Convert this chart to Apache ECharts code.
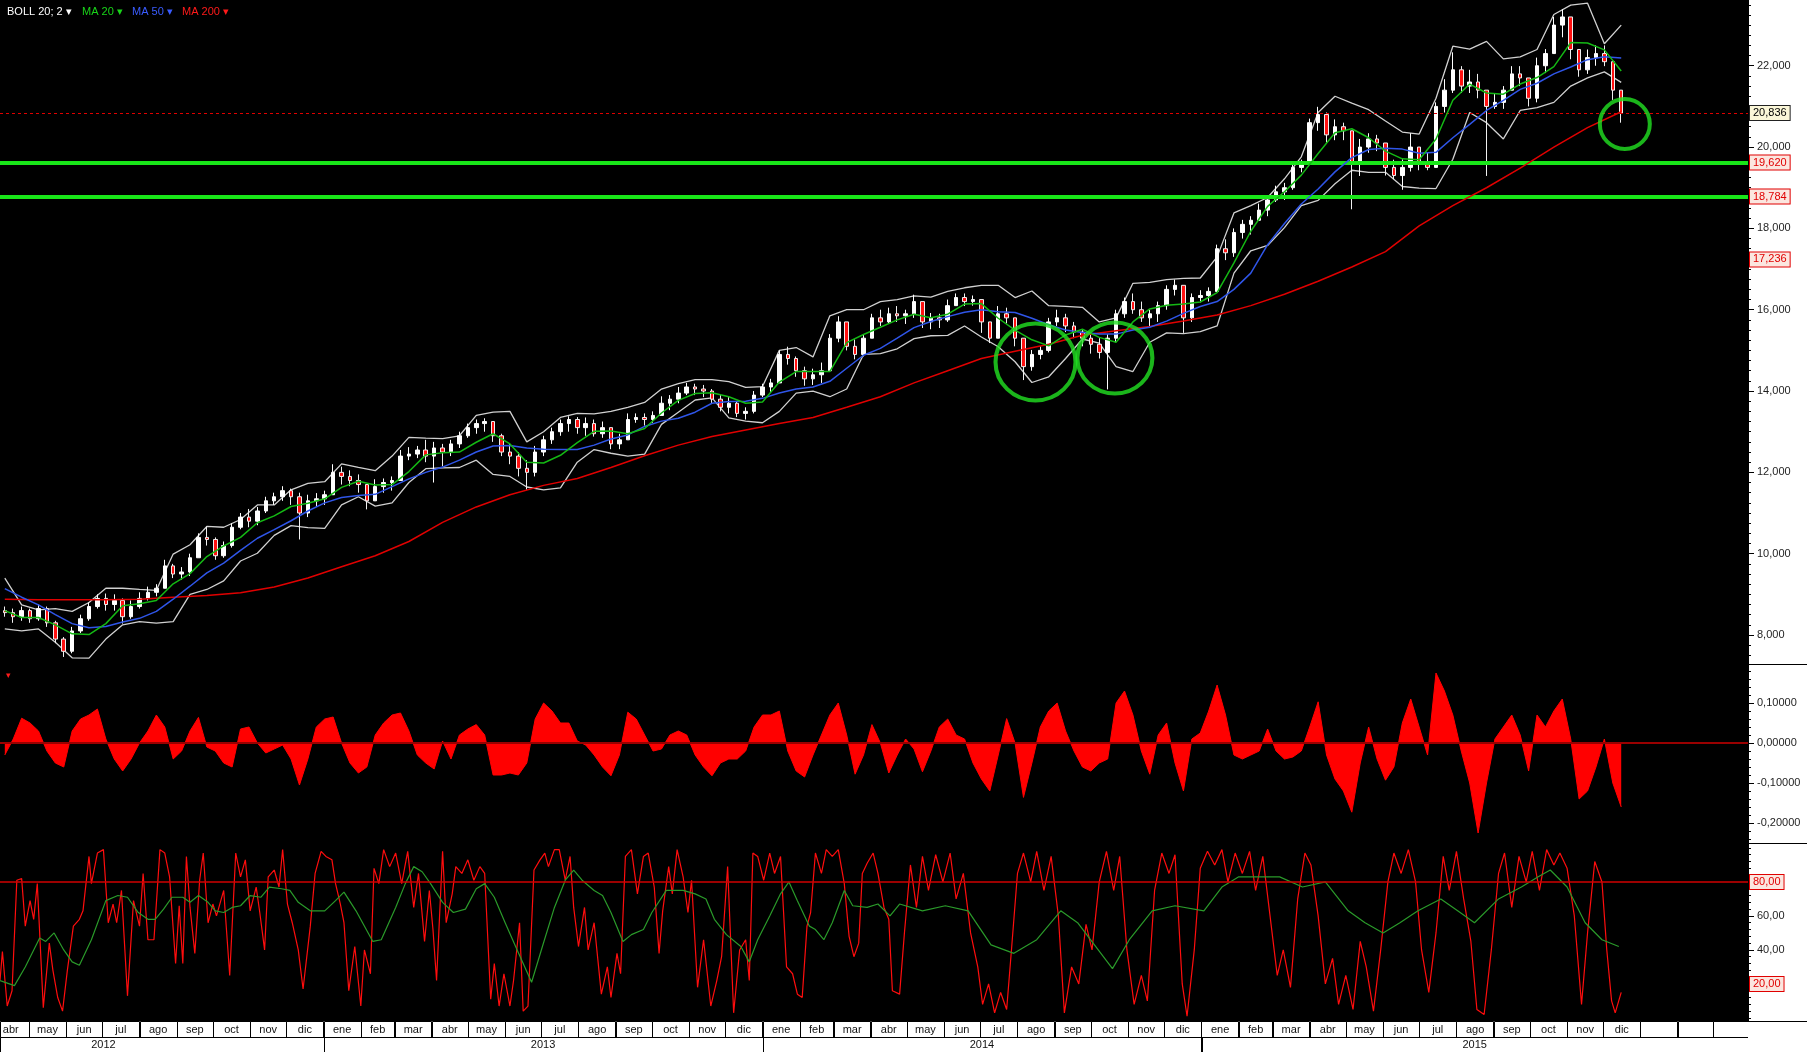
<!DOCTYPE html>
<html><head><meta charset="utf-8">
<script src="https://cdn.jsdelivr.net/npm/echarts@6/dist/echarts.min.js"></script>
<style>html,body{margin:0;padding:0;background:#fff}#c{width:1807px;height:1052px}</style>
</head><body><div id="c"></div>
<script>
const DAY = 86400000;
const AXIS_START = Date.UTC(2012, 3, 7);
const AXIS_END = Date.UTC(2016, 2, 30, 10);
const FIRST_WEEK_MID = Date.UTC(2012, 3, 11);
const LAST_LABELED_MONTH = Date.UTC(2015, 11, 1);
const FIRST_OPEN = 8600;

const MONTH_NAMES = ['ene','feb','mar','abr','may','jun','jul','ago','sep','oct','nov','dic'];
const YEAR_LABELS = ['2012','2013','2014','2015'];
const MAIN_TICKS = [8000,10000,12000,14000,16000,18000,20000,22000];
const HIST_TICKS = [0.1,0,-0.1,-0.2];
const STOCH_TICKS = [60,40];

// weekly bars (one per week)
const WEEK_CLOSE = [8550,8450,8600,8400,8650,8300,7900,7600,8100,8400,
8700,8900,8750,8850,8450,8700,8900,9050,9150,9700,
9500,9550,9900,10400,10350,9950,10200,10650,10900,10800,
11050,11300,11400,11550,11400,11000,11300,11350,11450,12000,
11900,11800,11700,11300,11650,11750,11800,12400,12450,12550,
12400,12600,12500,12700,12900,13100,13200,13250,12900,12500,
12400,12100,12000,12500,12800,13000,13200,13300,13100,13200,
12950,13100,12700,12800,13300,13350,13300,13400,13700,13800,
13950,14100,14050,14000,13800,13600,13700,13450,13500,13900,
14100,14200,14900,14800,14500,14300,14400,14500,15300,15700,
15100,14900,15300,15800,15700,15900,15850,15900,16200,15700,
15800,15750,16100,16300,16200,16250,15700,15300,15900,15800,
15300,14600,14900,15000,15700,15800,15600,15450,15300,15150,
14950,15300,15900,16200,16000,15800,15900,16100,16500,16600,
15800,16300,16350,16450,17500,17400,17900,18100,18200,18450,
18700,18900,19000,19500,19600,20600,20800,20300,20500,20400,
19600,20000,20200,20100,19500,19300,19500,20000,19600,19500,
21000,21400,21900,21500,21600,21400,21000,21100,21400,21800,
21700,21200,22000,22300,23000,23200,22400,21900,22200,22300,
22100,21400,20836];
const WEEK_HIGH = [8700,8650,8700,8650,8750,8700,8350,7950,8200,8500,
8800,9000,9020,9000,8900,8850,9050,9190,9250,9850,
9750,9670,10000,10500,10670,10400,10300,10750,11000,11100,
11150,11400,11500,11660,11600,11500,11450,11490,11550,12200,
12140,12050,11950,11700,11830,11850,11900,12550,12620,12650,
12800,12750,12700,12800,13000,13200,13300,13330,13250,12950,
12700,12500,12300,12650,12900,13100,13300,13380,13360,13350,
13300,13250,13100,12950,13450,13450,13450,13500,13870,13900,
14100,14200,14180,14150,14050,13900,13850,13750,13600,14000,
14180,14300,15000,15090,14850,14600,14550,14700,15400,15840,
15600,15270,15400,15900,16000,16050,16090,16000,16370,16200,
15920,15900,16250,16400,16400,16350,16250,15700,16090,16050,
15800,15300,15010,15100,15800,16000,15900,15700,15500,15430,
15300,15400,16000,16300,16400,16200,16000,16200,16600,16740,
16500,16400,16480,16550,17600,17730,18000,18210,18300,18610,
18800,19050,19120,19600,19690,20700,20990,20850,20680,20600,
20400,20200,20340,20300,20000,19690,19700,20340,19860,19860,
21100,21670,22330,21990,21900,21800,21330,21330,21500,21990,
21990,21590,22200,22410,23200,23390,23150,22410,22400,22500,
22500,22100,21300];
const WEEK_LOW = [8450,8300,8350,8300,8350,8200,7800,7460,7550,8050,
8350,8650,8600,8600,8280,8400,8650,8850,8950,9150,
9400,9360,9450,9900,10200,9850,9900,10150,10600,10650,
10700,11000,11200,11300,11200,10350,10900,11150,11200,11450,
11700,11660,11500,11090,11400,11500,11550,11800,12300,12350,
12250,11750,12150,12400,12600,12850,12950,13000,12750,12400,
12200,11900,11575,11900,12400,12700,12900,13000,12950,12900,
12880,12850,12570,12570,12800,13220,13150,13220,13400,13530,
13700,13900,13900,13850,13700,13500,13450,13360,13300,13450,
13850,13950,14200,14650,14350,14130,14150,14200,14500,15200,
15000,14780,14850,15300,15600,15650,15700,15650,15800,15550,
15520,15550,15700,16100,16090,16100,15430,15180,15300,15660,
15100,14270,14500,14780,14950,15600,15450,15300,15100,14920,
14800,14040,15200,15800,15900,15700,15600,15700,16000,16350,
15430,15700,16180,16200,16450,17220,17300,17750,17850,18250,
18300,18650,18700,18950,19380,19600,20400,20110,20170,20170,
18470,19290,19860,19900,19300,19210,18950,19400,19430,19430,
19600,20850,21330,21330,21330,21200,19290,20940,20940,21500,
21500,21000,21100,21820,22400,22700,22160,21730,21800,22000,
21990,21160,20600];

// indicators, one reading every 2 weeks
const BOLL_UPPER = [9400,8740,8620,8650,8580,8800,9150,9150,9120,9100,
9990,10220,10670,10650,10840,11200,11200,11570,11730,11770,
12210,12120,12040,12400,12860,12840,12830,12900,13400,13480,
13500,12750,13000,13350,13450,13440,13500,13600,13720,14050,
14180,14280,14280,14230,14090,14110,15000,15070,14840,15850,
16000,16000,16200,16250,16340,16310,16450,16540,16600,16600,
16300,16460,16100,16080,16060,15700,15800,16650,16670,16740,
16770,16780,17300,18380,18560,18760,19220,19760,20850,21250,
21080,20920,20640,20370,20320,21200,22480,22410,22600,22170,
22220,22400,23260,23490,23540,22540,23000];
const BOLL_LOWER = [8150,8100,8150,7820,7440,7430,7900,8250,8330,8290,
8330,9000,9120,9330,9820,10010,10450,10690,10640,10620,
11200,11400,11170,11250,11750,12090,12110,12120,12300,11950,
11900,11640,11570,11620,12250,12560,12470,12400,12450,13180,
13480,13780,13830,13340,13260,13220,13500,13950,14000,13860,
14050,14900,14920,15040,15290,15360,15370,15600,15330,15090,
14720,14210,14350,14800,15280,15180,14600,14480,15200,15430,
15410,15460,15600,16900,17450,17580,18020,18560,18690,19100,
19430,19380,19380,19030,18990,18980,19700,20850,20600,20200,
20900,20970,21100,21500,21700,21850,21590];
const MA20 = [8600,8430,8430,8250,8030,8010,8280,8720,8770,8850,
9260,9510,9930,10190,10400,10760,10930,11160,11240,11350,
11630,11780,11690,11700,12020,12430,12480,12500,12740,12950,
12700,12250,12230,12420,12730,13010,13020,12950,13080,13460,
13770,13940,13960,13860,13700,13730,14220,14480,14480,14480,
15190,15390,15570,15750,15890,15800,15890,16140,16150,15790,
15500,15260,15110,15380,15520,15320,15200,15700,16020,16110,
16140,16190,16420,17150,17930,18540,18900,19310,19840,20350,
20450,20230,19900,19710,19690,20200,21150,21550,21330,21300,
21550,21710,21980,22570,22560,22390,21870];
const MA50 = [9140,8930,8740,8500,8280,8180,8210,8320,8410,8580,
8880,9200,9530,9770,10080,10380,10590,10810,11050,11250,
11380,11430,11460,11650,11840,12000,12130,12300,12500,12650,
12660,12600,12570,12560,12560,12670,12820,12920,13130,13260,
13330,13480,13700,13740,13750,13820,13950,14050,14100,14240,
14560,14880,15050,15300,15560,15710,15830,15940,16000,15950,
15930,15790,15630,15500,15440,15400,15400,15500,15570,15720,
15910,16080,16200,16500,16900,17600,18120,18600,18970,19390,
19740,19940,19970,19950,19850,19870,20230,20560,20900,21150,
21420,21570,21800,21970,22150,22220,22190];
// one reading every 4 weeks
const MA200 = [8880,8870,8870,8870,8880,8930,8970,9040,9180,9400,
9680,9950,10300,10770,11150,11450,11680,11850,12120,12410,
12670,12880,13040,13200,13350,13600,13860,14200,14500,14800,
14980,15150,15370,15480,15590,15720,15870,16100,16380,16700,
17050,17430,18060,18560,19000,19480,20000,20480,20870];

// oscillator histogram, one value per week
const OSC = [-0.03,0.01,0.062,0.05,0.03,-0.02,-0.05,-0.06,0.03,0.06,
0.07,0.085,0.01,-0.04,-0.07,-0.04,0.0,0.03,0.07,0.04,
-0.04,-0.02,0.03,0.064,-0.01,-0.02,-0.05,-0.06,0.035,0.04,
0.0,-0.025,-0.015,-0.005,-0.04,-0.105,-0.04,0.04,0.06,0.065,
0.0,-0.05,-0.075,-0.06,0.02,0.05,0.07,0.075,0.03,-0.03,
-0.05,-0.065,0.005,-0.04,0.02,0.035,0.046,0.02,-0.08,-0.08,
-0.075,-0.08,-0.05,0.06,0.10,0.08,0.05,0.05,0.005,-0.005,
-0.03,-0.06,-0.082,-0.03,0.077,0.06,0.02,-0.02,-0.015,0.02,
0.03,0.02,-0.03,-0.06,-0.082,-0.05,-0.04,-0.04,-0.02,0.04,
0.07,0.07,0.08,-0.02,-0.07,-0.085,-0.03,0.02,0.07,0.10,
0.02,-0.078,-0.03,0.046,0.0,-0.075,-0.03,0.01,-0.015,-0.072,
-0.02,0.04,0.06,0.02,0.01,-0.05,-0.09,-0.12,-0.03,0.061,
0.0,-0.136,-0.05,0.04,0.08,0.10,0.03,-0.02,-0.06,-0.07,
-0.05,-0.04,0.10,0.13,0.07,-0.02,-0.078,0.02,0.05,-0.05,
-0.12,0.01,0.025,0.08,0.145,0.07,-0.03,-0.04,-0.03,-0.02,
0.035,-0.02,-0.04,-0.035,-0.02,0.04,0.103,-0.03,-0.09,-0.12,
-0.173,-0.05,0.04,-0.04,-0.093,-0.06,0.05,0.11,0.04,-0.03,
0.175,0.13,0.07,-0.02,-0.1,-0.225,-0.1,0.01,0.04,0.07,
0.02,-0.07,0.07,0.04,0.08,0.11,0.01,-0.14,-0.12,-0.06,
0.01,-0.1,-0.16];

// stochastic: [days after axis start, value]
const STOCH_K = [[0,22],[2,39],[6,7],[10,16],[14,81],[18,82],[21,54],[25,69],[28,58],[31,79],[36,6],[41,44],[44,28],[48,12],[52,4],[56,28],[61,54],[66,58],[69,63],[74,95],[76,79],[81,97],[86,99],[90,56],[94,67],[97,56],[101,75],[106,13],[111,69],[116,54],[119,85],[123,46],[128,46],[133,99],[137,97],[141,83],[146,32],[149,66],[152,32],[155,95],[158,65],[162,38],[166,81],[169,97],[173,56],[177,67],[180,60],[186,75],[191,25],[196,97],[200,83],[204,93],[208,63],[213,77],[216,62],[220,40],[223,83],[228,87],[232,77],[235,99],[239,67],[243,56],[248,40],[252,17],[258,54],[262,85],[267,98],[271,95],[276,93],[279,79],[283,67],[286,56],[290,16],[295,42],[300,7],[303,40],[308,26],[311,88],[315,79],[319,99],[324,89],[329,97],[334,79],[339,98],[344,65],[348,85],[353,45],[357,75],[360,52],[363,22],[368,98],[371,56],[376,73],[379,89],[384,85],[389,93],[394,81],[399,89],[403,85],[408,11],[411,32],[415,7],[419,26],[424,7],[427,22],[432,56],[435,4],[439,7],[444,87],[449,93],[453,97],[456,89],[461,99],[465,99],[470,81],[474,95],[477,65],[481,42],[486,65],[489,40],[494,56],[500,14],[505,30],[508,12],[513,38],[516,26],[520,95],[525,99],[530,73],[535,95],[539,97],[544,77],[548,38],[551,63],[556,89],[559,73],[563,99],[568,83],[572,62],[575,81],[580,18],[585,46],[591,7],[596,22],[600,36],[605,89],[610,3],[615,40],[620,46],[623,22],[626,97],[630,95],[635,81],[640,97],[644,85],[649,95],[654,30],[659,26],[663,14],[667,12],[671,54],[674,62],[678,97],[683,85],[687,99],[692,95],[697,99],[702,79],[706,48],[710,36],[714,44],[717,85],[721,91],[726,97],[730,85],[735,65],[739,58],[742,16],[748,14],
[752,50],[757,90],[762,65],[767,95],[772,75],[778,96],[784,80],[790,97],[795,70],[801,85],[807,50],[813,30],[817,8],[822,20],[827,3],[832,15],[837,5],[841,40],[846,85],[851,97],[857,80],[862,98],[868,75],[874,95],[880,60],[885,3],[891,30],[897,20],[903,55],[908,40],[914,80],[920,98],[926,75],[931,95],[937,40],[943,8],[949,25],[954,10],[960,75],[966,97],[972,85],[977,96],[983,20],[987,1],[993,40],[998,88],[1004,98],[1010,90],[1016,99],[1021,80],[1027,97],[1033,85],[1039,98],[1044,75],[1050,95],[1056,60],[1062,25],[1067,40],[1073,18],[1079,70],[1085,97],[1090,90],[1096,60],[1102,20],[1108,35],[1113,8],[1119,25],[1125,5],[1131,45],[1136,30],[1142,4],[1148,40],[1154,80],[1159,97],[1165,85],[1171,99],[1177,80],[1182,40],[1188,15],[1194,50],[1200,95],[1205,75],[1211,98],[1217,70],[1223,45],[1228,5],[1234,2],[1240,40],[1246,85],[1251,97],[1257,65],[1263,95],[1269,80],[1274,98],[1280,75],[1286,99],[1292,90],[1297,97],[1303,88],[1309,60],[1315,8],[1320,50],[1326,92],[1332,80],[1336,40],[1340,10],[1343,3],[1348,15]];
const STOCH_D = [[0,22],[12,19],[21,30],[33,47],[38,45],[45,50],[53,40],[60,33],[66,31],[76,46],[88,69],[98,72],[106,71],[115,62],[123,58],[129,58],[136,64],[143,71],[152,71],[158,68],[165,72],[173,68],[179,63],[186,62],[193,65],[200,66],[208,72],[217,71],[224,77],[234,76],[241,75],[248,68],[258,63],[270,63],[279,69],[286,74],[296,63],[310,45],[317,46],[329,65],[337,79],[344,89],[351,86],[358,79],[368,68],[377,62],[387,64],[396,76],[403,79],[411,71],[420,56],[430,40],[442,21],[451,42],[461,65],[470,81],[477,87],[484,81],[494,75],[501,72],[508,62],[518,45],[525,49],[535,52],[542,62],[554,75],[568,75],[578,73],[587,70],[594,58],[604,49],[616,42],[623,33],[630,46],[640,60],[649,73],[656,80],[663,69],[673,54],[678,52],[685,46],[692,56],[702,75],[709,66],[721,65],[730,67],[740,60],[748,67],[767,63],[786,66],[805,63],[824,43],[843,38],[862,46],[882,63],[896,56],[910,43],[925,29],[939,46],[958,63],[977,66],[1001,63],[1016,77],[1030,83],[1044,83],[1064,83],[1083,77],[1102,80],[1121,63],[1135,56],[1150,50],[1164,56],[1179,63],[1198,70],[1212,63],[1226,56],[1246,70],[1265,77],[1279,83],[1289,87],[1303,77],[1318,56],[1332,46],[1346,42]];

// annotations
const LEVELS = [20836, 19620, 18784, 17236];
const STOCH_LEVELS = [80, 20];
const CIRCLE_AT = [[Date.UTC(2014,7,16), 14714],[Date.UTC(2014,9,21), 14813],[Date.UTC(2015,11,19), 20568]];

// ---------- build ----------
const FONT = 'Liberation Sans, Arial, sans-serif';
const weekTs = i => FIRST_WEEK_MID + i * 7 * DAY;
const candles = WEEK_CLOSE.map((c, i) => {
  const o = i === 0 ? FIRST_OPEN : WEEK_CLOSE[i - 1];
  return [weekTs(i), o, c, Math.min(WEEK_LOW[i], o, c), Math.max(WEEK_HIGH[i], o, c)];
});
const every = (arr, step) => arr.map((v, i) => [weekTs(i * step), v]);
const dayPts = arr => arr.map(p => [AXIS_START + p[0] * DAY, p[1]]);
const fmtMain = v => Math.round(v).toLocaleString('en-US');
const fmtHist = v => v.toFixed(5).replace('.', ',');
const fmtStoch = v => v.toFixed(2).replace('.', ',');

const cells = [];
for (let y = 2012, m = 3; ; m++) {
  if (m > 11) { m = 0; y++; }
  const s = Date.UTC(y, m, 1);
  if (s >= AXIS_END) break;
  cells.push({ s, e: Date.UTC(y, m + 1, 1), row: 1, label: s <= LAST_LABELED_MONTH ? MONTH_NAMES[m] : '' });
}
YEAR_LABELS.forEach((lab, i) => {
  const y = +lab;
  cells.push({ s: Date.UTC(y, 0, 1), e: i === YEAR_LABELS.length - 1 ? AXIS_END : Date.UTC(y + 1, 0, 1), row: 0, label: lab });
});

const PLOT_W = 1748;
const HIDDEN_LINE = { color: 'rgba(0,0,0,0)', width: 1, type: 'solid' };
const tagStyle = (txtColor, bg, border) => ({
  show: true, position: 'end', distance: 2, color: txtColor, backgroundColor: bg,
  borderColor: border, borderWidth: 1, padding: [2, 3, 1, 3], fontSize: 11, fontFamily: FONT
});
const levelStyles = [
  { line: { color: '#e00000', width: 1, type: [3, 3] }, tag: tagStyle('#000', '#fbf7d8', '#222') },
  { line: { color: '#19e619', width: 4, type: 'solid' }, tag: tagStyle('#e00000', '#fbe6df', '#e00000') },
  { line: { color: '#19e619', width: 4, type: 'solid' }, tag: tagStyle('#e00000', '#fbe6df', '#e00000') },
  { line: HIDDEN_LINE, tag: tagStyle('#e00000', '#fbe6df', '#e00000') }
];
const stochStyles = [
  { line: { color: '#d00000', width: 1.5, type: 'solid' }, tag: tagStyle('#e00000', '#fbe6df', '#e00000') },
  { line: HIDDEN_LINE, tag: tagStyle('#e00000', '#fbe6df', '#e00000') }
];
const CIRCLE_SIZE = [[80, 77], [75, 71], [50, 50]];

const minorTicks = (a, b, step) => { const r = []; for (let v = a; v <= b + 1e-9; v += step) r.push(+v.toFixed(4)); return r; };
const axisCommon = (grid, min, max) => ({
  type: 'value', gridIndex: grid, position: 'right', min, max, splitLine: { show: false }
});
const labelStyle = { color: '#1e1e1e', fontSize: 11, fontFamily: FONT, margin: 9 };

const option = {
  animation: false,
  backgroundColor: '#ffffff',
  title: [
    { text: 'BOLL 20; 2 ▾', left: 2, top: 1, textStyle: { color: '#ffffff', fontSize: 11, fontWeight: 'normal', fontFamily: FONT } },
    { text: 'MA 20 ▾', left: 77, top: 1, textStyle: { color: '#19d419', fontSize: 11, fontWeight: 'normal', fontFamily: FONT } },
    { text: 'MA 50 ▾', left: 127, top: 1, textStyle: { color: '#3a5cff', fontSize: 11, fontWeight: 'normal', fontFamily: FONT } },
    { text: 'MA 200 ▾', left: 177, top: 1, textStyle: { color: '#ff1a1a', fontSize: 11, fontWeight: 'normal', fontFamily: FONT } },
    { text: '▾', left: 1, top: 666, textStyle: { color: '#ff1a1a', fontSize: 9, fontWeight: 'normal', fontFamily: FONT } }
  ],
  grid: [
    { left: 0, top: 0, width: PLOT_W, height: 664, show: true, backgroundColor: '#000', borderWidth: 0 },
    { left: 0, top: 664, width: PLOT_W, height: 179, show: true, backgroundColor: '#000', borderWidth: 0 },
    { left: 0, top: 843, width: PLOT_W, height: 178, show: true, backgroundColor: '#000', borderWidth: 0 },
    { left: 0, top: 1021, width: PLOT_W, height: 31, show: false }
  ],
  xAxis: [0, 1, 2, 3].map(g => ({ type: 'time', gridIndex: g, min: AXIS_START, max: AXIS_END, show: false })),
  yAxis: [
    Object.assign(axisCommon(0, 7287, 23617), {
      axisLine: { show: true, lineStyle: { color: '#000', width: 1 } },
      axisTick: { show: true, length: 6, customValues: MAIN_TICKS, lineStyle: { color: '#000' } },
      axisLabel: Object.assign({ customValues: MAIN_TICKS, formatter: fmtMain }, labelStyle)
    }),
    Object.assign(axisCommon(0, 7287, 23617), {
      axisLine: { show: false },
      axisTick: { show: true, length: 3, customValues: minorTicks(7500, 23500, 250), lineStyle: { color: '#000' } },
      axisLabel: { show: false }
    }),
    Object.assign(axisCommon(1, -0.25, 0.1975), {
      axisLine: { show: true, lineStyle: { color: '#000', width: 1 } },
      axisTick: { show: true, length: 6, customValues: HIST_TICKS, lineStyle: { color: '#000' } },
      axisLabel: Object.assign({ customValues: HIST_TICKS, formatter: fmtHist }, labelStyle)
    }),
    Object.assign(axisCommon(1, -0.25, 0.1975), {
      axisLine: { show: false },
      axisTick: { show: true, length: 3, customValues: minorTicks(-0.24, 0.18, 0.02), lineStyle: { color: '#000' } },
      axisLabel: { show: false }
    }),
    Object.assign(axisCommon(2, -1.8, 102.9), {
      axisLine: { show: true, lineStyle: { color: '#000', width: 1 } },
      axisTick: { show: true, length: 6, customValues: STOCH_TICKS, lineStyle: { color: '#000' } },
      axisLabel: Object.assign({ customValues: STOCH_TICKS, formatter: fmtStoch }, labelStyle)
    }),
    Object.assign(axisCommon(2, -1.8, 102.9), {
      axisLine: { show: false },
      axisTick: { show: true, length: 3, customValues: minorTicks(0, 100, 4), lineStyle: { color: '#000' } },
      axisLabel: { show: false }
    }),
    { type: 'value', gridIndex: 3, min: 0, max: 2, show: false }
  ],
  series: [
    { name: 'BOLL up', type: 'line', xAxisIndex: 0, yAxisIndex: 0, data: every(BOLL_UPPER, 2), symbol: 'none', lineStyle: { color: '#d0d0d0', width: 1.3 }, z: 3 },
    { name: 'BOLL low', type: 'line', xAxisIndex: 0, yAxisIndex: 0, data: every(BOLL_LOWER, 2), symbol: 'none', lineStyle: { color: '#d0d0d0', width: 1.3 }, z: 3 },
    { name: 'price', type: 'candlestick', xAxisIndex: 0, yAxisIndex: 0, data: candles, encode: { x: 0, y: [1, 2, 3, 4] }, barWidth: 4,
      itemStyle: { color: '#ffffff', color0: '#ff1010', borderColor: '#ffffff', borderColor0: '#f0f0f0', borderWidth: 1 }, z: 4 },
    { name: 'MA 200', type: 'line', xAxisIndex: 0, yAxisIndex: 0, data: every(MA200, 4), symbol: 'none', lineStyle: { color: '#e00000', width: 1.5 }, z: 5,
      markLine: { symbol: 'none', silent: true, animation: false,
        data: LEVELS.map((v, i) => ({ yAxis: v, lineStyle: levelStyles[i].line, label: Object.assign({ formatter: fmtMain(v) }, levelStyles[i].tag) })) } },
    { name: 'MA 50', type: 'line', xAxisIndex: 0, yAxisIndex: 0, data: every(MA50, 2), symbol: 'none', lineStyle: { color: '#2f55e8', width: 1.5 }, z: 5 },
    { name: 'MA 20', type: 'line', xAxisIndex: 0, yAxisIndex: 0, data: every(MA20, 2), symbol: 'none', lineStyle: { color: '#14b814', width: 1.5 }, z: 5 },
    { name: 'circles', type: 'scatter', xAxisIndex: 0, yAxisIndex: 0, data: CIRCLE_AT, symbol: 'circle',
      symbolSize: (v, p) => CIRCLE_SIZE[p.dataIndex],
      itemStyle: { color: 'rgba(0,0,0,0)', borderColor: '#22e222', borderWidth: 4 }, z: 6, silent: true },
    { name: 'osc', type: 'line', xAxisIndex: 1, yAxisIndex: 2, data: OSC.map((v, i) => [weekTs(i), v]), symbol: 'none',
      lineStyle: { color: '#ff0000', width: 1 }, areaStyle: { color: '#ff0000', opacity: 1, origin: 0 },
      markLine: { symbol: 'none', silent: true, animation: false, label: { show: false }, data: [{ yAxis: 0, lineStyle: { color: '#9a0000', width: 2, type: 'solid' } }] } },
    { name: 'stoch K', type: 'line', xAxisIndex: 2, yAxisIndex: 4, data: dayPts(STOCH_K), symbol: 'none', lineStyle: { color: '#ff0d0d', width: 1.2 },
      markLine: { symbol: 'none', silent: true, animation: false,
        data: STOCH_LEVELS.map((v, i) => ({ yAxis: v, lineStyle: stochStyles[i].line, label: Object.assign({ formatter: fmtStoch(v) }, stochStyles[i].tag) })) } },
    { name: 'stoch D', type: 'line', xAxisIndex: 2, yAxisIndex: 4, data: dayPts(STOCH_D), symbol: 'none', lineStyle: { color: '#2a9a2a', width: 1.2 } },
    { name: 'time cells', type: 'custom', xAxisIndex: 3, yAxisIndex: 6, data: cells.map(c => [c.s, c.e, c.row]), clip: true, silent: true,
      renderItem: (params, api) => {
        const c = cells[params.dataIndex];
        const p0 = api.coord([c.s, c.row + 1]);
        const p1 = api.coord([c.e, c.row]);
        const cs = params.coordSys;
        const x0 = Math.max(p0[0], cs.x), x1 = Math.min(p1[0], cs.x + cs.width);
        return { type: 'group', children: [
          { type: 'rect', shape: { x: Math.round(x0) + 0.5, y: Math.round(p0[1]) + 0.5, width: Math.round(x1 - x0), height: Math.round(p1[1] - p0[1]) },
            style: { fill: null, stroke: '#000', lineWidth: 1 } },
          { type: 'text', style: { text: c.label, x: (p0[0] + p1[0]) / 2, y: (p0[1] + p1[1]) / 2 + 1, align: 'center', verticalAlign: 'middle',
            fill: '#111', font: '11px ' + FONT } }
        ] };
      } }
  ],
  graphic: [
    { type: 'line', shape: { x1: PLOT_W, y1: 664.5, x2: 1807, y2: 664.5 }, style: { stroke: '#000', lineWidth: 1 } },
    { type: 'line', shape: { x1: PLOT_W, y1: 843.5, x2: 1807, y2: 843.5 }, style: { stroke: '#000', lineWidth: 1 } },
    { type: 'line', shape: { x1: PLOT_W, y1: 1021.5, x2: 1807, y2: 1021.5 }, style: { stroke: '#000', lineWidth: 1 } }
  ]
};

const chart = echarts.init(document.getElementById('c'), null, { renderer: 'canvas', width: 1807, height: 1052 });
chart.setOption(option);
</script>
</body></html>
